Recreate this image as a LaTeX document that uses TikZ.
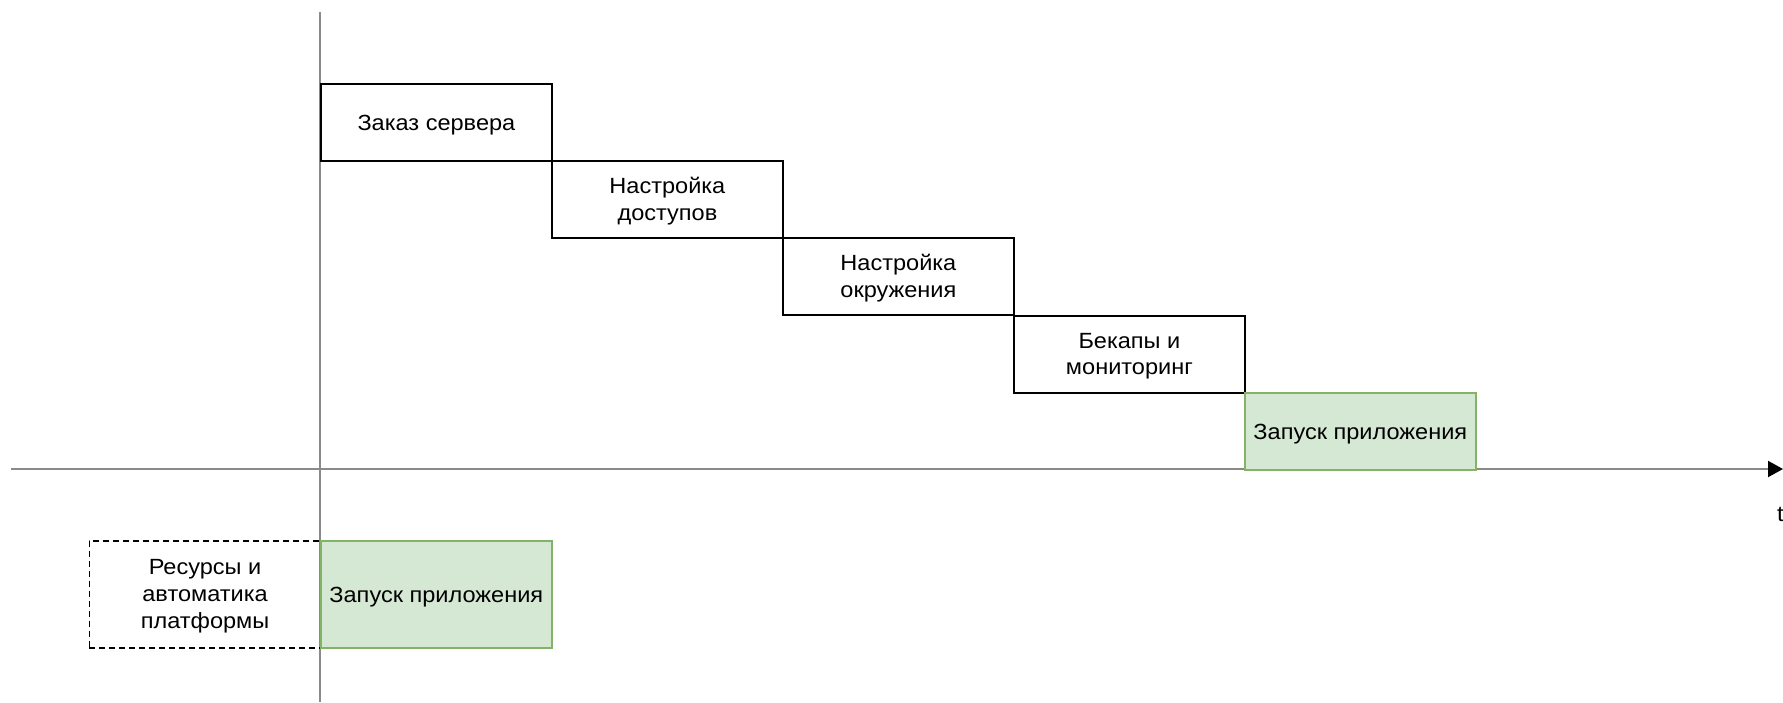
\documentclass[tikz,border=0pt]{standalone}
\usepackage{fontspec}
\setmainfont[FakeStretch=1.07]{Liberation Sans}
\usetikzlibrary{arrows.meta}
\definecolor{stagefill}{HTML}{D5E8D4}
\definecolor{stageedge}{HTML}{82B366}
\definecolor{axisgray}{HTML}{8A8A8A}
\begin{document}
\begin{tikzpicture}[x=1pt,y=-1pt,
  every node/.style={font=\fontsize{22}{26.8}\selectfont, align=center, inner sep=0pt},
  boxtext/.style={yshift=-3pt},
  boxtexttwo/.style={yshift=-1.8pt},
  stepbox/.style={draw=black, line width=1.8pt, minimum width=231pt, minimum height=77pt, anchor=north west},
  launchbox/.style={draw=stageedge, fill=stagefill, line width=1.6pt, minimum width=231pt, anchor=north west},
  platformbox/.style={draw=black, line width=1.6pt, dash pattern=on 6pt off 4pt, minimum width=231pt, minimum height=107pt, anchor=north west},
  axis/.style={draw=axisgray, line width=2pt}]
\useasboundingbox (0,0) rectangle (1783,702);
% time axes
\coordinate (vtop) at (320,12);
\coordinate (vbot) at (320,702);
\coordinate (hleft) at (11,469);
\coordinate (hright) at (1783,469);
\draw[axis] (vtop) -- (vbot);
\draw[axis, -{Triangle[length=15pt, width=16pt, color=black, fill=black]}] (hleft) -- (hright);
\node[anchor=west] (tlabel) at (1777,514) {t};
% sequential stages
\node[stepbox, label={[boxtext]center:Заказ сервера}] (order) at (320,83) {};
\node[stepbox, label={[boxtexttwo]center:Настройка\\доступов}] (access) at (551,160) {};
\node[stepbox, label={[boxtexttwo]center:Настройка\\окружения}] (env) at (782,237) {};
\node[stepbox, label={[boxtexttwo]center:Бекапы и\\мониторинг}] (backup) at (1013,315) {};
\node[launchbox, minimum height=77pt, label={[boxtext]center:Запуск приложения}] (launch) at (1244,392) {};
% platform variant
\node[platformbox, minimum width=231.5pt, label={[boxtexttwo]center:Ресурсы и\\автоматика\\платформы}] (platform) at (88.5,540) {};
\node[launchbox, minimum height=107pt, label={[boxtext]center:Запуск приложения}] (launchfast) at (320,540) {};
\end{tikzpicture}
\end{document}
